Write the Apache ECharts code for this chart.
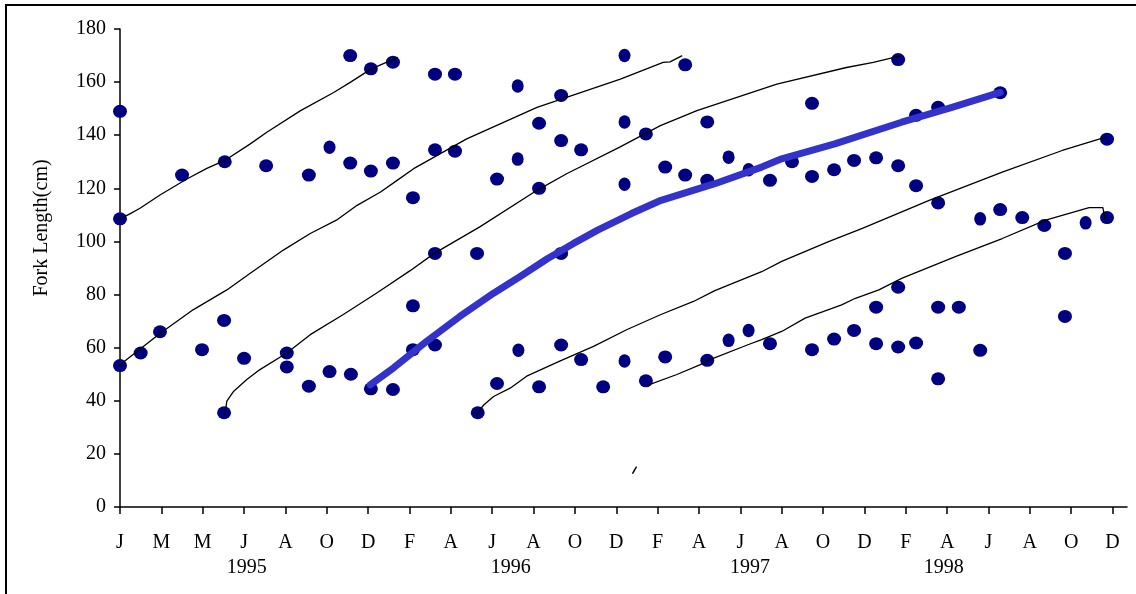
<!DOCTYPE html>
<html>
<head>
<meta charset="utf-8">
<script src="https://cdn.jsdelivr.net/npm/echarts@6/dist/echarts.min.js"></script>
<style>
  html, body { margin: 0; padding: 0; background: #fff; }
  #main { width: 1136px; height: 594px; }
</style>
</head>
<body>
<div id="main"></div>
<script>
// x is days since 1 Jan 1995, y is fork length in cm
const tickDays = [0, 60, 120, 180, 240, 300, 360, 420, 480, 540, 600, 660, 720, 780, 840, 900, 960, 1020, 1080, 1140, 1200, 1260, 1320, 1380, 1440]
const monthLabels = ['J', 'M', 'M', 'J', 'A', 'O', 'D', 'F', 'A', 'J', 'A', 'O', 'D', 'F', 'A', 'J', 'A', 'O', 'D', 'F', 'A', 'J', 'A', 'O', 'D']
const yearDays = [184, 567, 914, 1195]
const yearLabels = ['1995', '1996', '1997', '1998']

// fish caught (big dots)
const catches = [
  [0, 149], [0, 108.5], [90, 125], [152, 130], [212, 128.5], [274, 125], [334, 170], [334, 129.5],
  [364, 165], [364, 126.5], [396, 167.5], [396, 129.5],
  [457, 163], [486, 163], [640, 155], [820, 166.5], [457, 134.5], [486, 134], [608, 144.5], [640, 138],
  [669, 134.5], [547, 123.5], [608, 120], [763, 140.5], [852, 145], [791, 128], [820, 125], [852, 123],
  [943, 123], [425, 116.5], [457, 95.5], [518, 95.5], [640, 95.5],
  [1129, 168.5], [1004, 152], [1155, 147.5], [1187, 150.5], [1277, 156], [975, 130], [1004, 124.5],
  [1036, 127], [1065, 130.5], [1097, 131.5], [1129, 128.5], [1155, 121], [1187, 114.5], [1277, 112],
  [1309, 109], [1341, 106], [1432, 109], [1432, 138.5], [1371, 95.5], [1129, 82.75],
  [0, 53.25], [30, 58], [58, 66], [119, 59.25], [151, 70.25], [180, 56], [151, 35.5], [242, 58],
  [242, 52.75], [274, 45.5], [304, 51], [335, 50], [364, 44.5], [396, 44.25],
  [425, 75.75], [425, 59.25], [457, 61], [519, 35.5], [547, 46.5], [608, 45.25], [640, 61], [669, 55.5],
  [701, 45.25], [763, 47.5], [791, 56.5], [852, 55.25], [943, 61.5],
  [1004, 59.25], [1036, 63.25], [1065, 66.5], [1097, 75.25], [1097, 61.5], [1129, 60.25], [1155, 61.75],
  [1187, 75.25], [1187, 48.25], [1217, 75.25], [1248, 59], [1371, 71.75]
]
// slightly smaller dots
const catchesSmall = [
  [304, 135.5], [577, 158.5], [577, 131], [578, 59], [732, 170], [732, 145], [732, 121.5], [732, 55],
  [883, 131.75], [883, 62.75], [912, 127], [912, 66.5], [1248, 108.5], [1401, 107]
]

// growth curves
const growth1 = [[0, 108.5], [15, 110.5], [29, 112.5], [58, 117.5], [97, 123.5], [126, 127.5], [152, 130.5],
  [189, 136.75], [213, 141.1], [262, 149.25], [310, 156.1], [334, 159.9], [364, 164.9], [402, 169.25]]
const growth2 = [[0, 53.6], [58, 65.3], [106, 74.25], [155, 81.75], [189, 88], [237, 96.75], [276, 103],
  [314, 108], [344, 113.6], [378, 118.6], [402, 123], [426, 127.4], [503, 138.6],
  [605, 150.5], [726, 161.1], [788, 167.4], [798, 167.6], [815, 169.9]]
const growth3 = [[152, 34.5], [155, 39.9], [165, 43.6], [184, 48], [203, 51.75], [242, 58], [276, 64.9],
  [324, 72.5], [372, 80.5], [421, 89], [456, 95.5], [522, 105.5], [605, 119.25], [648, 125.5],
  [725, 135.5], [784, 143.6], [837, 149.25], [895, 154.25], [953, 159.25], [1054, 165.5], [1093, 167.4],
  [1132, 169.9]]
const growthBlue = [[363, 46], [397, 52.4], [445, 62.4], [493, 71.75], [542, 80.5], [580, 86.7],
  [620, 93.5], [658, 99.25], [693, 104.25], [742, 110.5], [785, 115.5], [863, 121.75],
  [931, 128], [960, 131.1], [1037, 136.75], [1134, 144.9], [1207, 150.5], [1277, 156.1]]
const growth4 = [[517, 34.9], [528, 38.5], [542, 41.6], [566, 44.75], [590, 49.25], [638, 54.9], [687, 60.5],
  [735, 66.75], [784, 72.4], [832, 77.4], [863, 81.5], [931, 88.6], [960, 92.5], [1028, 99.9], [1077, 104.9],
  [1174, 115.5], [1280, 126.1], [1367, 134.25], [1430, 139.25]]
const growth5 = [[762, 45.5], [808, 49.9], [842, 53.6], [856, 55.5], [911, 61.1], [931, 63], [960, 66.1], [994, 71.1],
  [1047, 76.1], [1067, 78.6], [1101, 81.75], [1134, 86.1], [1212, 94.25], [1280, 101.1], [1343, 108],
  [1406, 112.75], [1426, 112.75], [1429, 108.6]]
const strayMark = [[744, 12.75], [749, 15]]

const font = 'Liberation Serif'
const chart = echarts.init(document.getElementById('main'))

function curve(data, color, width) {
  return {
    type: 'line',
    data: data,
    showSymbol: false,
    symbol: 'none',
    silent: true,
    z: 3,
    lineStyle: { color: color, width: width, cap: 'round', join: 'round' }
  }
}

const option = {
  animation: false,
  backgroundColor: '#fff',
  grid: { left: 120, right: 9, top: 29, bottom: 87 },
  xAxis: [
    {
      type: 'value',
      min: 0,
      max: 1461,
      position: 'bottom',
      splitLine: { show: false },
      axisLine: { lineStyle: { color: '#000', width: 1.5 } },
      axisTick: { customValues: tickDays, length: 7, lineStyle: { color: '#000', width: 1.5 } },
      axisLabel: {
        customValues: tickDays,
        margin: 26,
        color: '#000',
        fontFamily: font,
        fontSize: 20,
        formatter: v => monthLabels[tickDays.indexOf(v)]
      }
    },
    {
      type: 'value',
      min: 0,
      max: 1461,
      position: 'bottom',
      splitLine: { show: false },
      axisLine: { show: false },
      axisTick: { show: false },
      axisLabel: {
        customValues: yearDays,
        margin: 51,
        color: '#000',
        fontFamily: font,
        fontSize: 20,
        formatter: v => yearLabels[yearDays.indexOf(v)]
      }
    }
  ],
  yAxis: {
    type: 'value',
    min: 0,
    max: 180,
    interval: 20,
    splitLine: { show: false },
    axisLine: { show: true, lineStyle: { color: '#000', width: 1.5 } },
    axisTick: { show: true, length: 6, lineStyle: { color: '#000', width: 1.5 } },
    axisLabel: { margin: 14, color: '#000', fontFamily: font, fontSize: 20 }
  },
  graphic: [
    {
      type: 'rect',
      shape: { x: 6, y: 5, width: 1300, height: 800 },
      style: { fill: null, stroke: '#000', lineWidth: 2 },
      silent: true
    },
    {
      type: 'text',
      x: 42,
      y: 228,
      rotation: Math.PI / 2,
      style: {
        text: 'Fork Length(cm)',
        font: '20px "Liberation Serif"',
        fill: '#000',
        align: 'center',
        verticalAlign: 'middle'
      }
    }
  ],
  series: [
    {
      type: 'scatter',
      data: catches,
      symbol: 'circle',
      symbolSize: [14, 13],
      z: 2,
      itemStyle: { color: '#000080', opacity: 1 }
    },
    {
      type: 'scatter',
      data: catchesSmall,
      symbol: 'circle',
      symbolSize: [12, 13.5],
      z: 2,
      itemStyle: { color: '#000080', opacity: 1 }
    },
    curve(growth1, '#000', 1.3),
    curve(growth2, '#000', 1.3),
    curve(growth3, '#000', 1.3),
    curve(growth4, '#000', 1.3),
    curve(growth5, '#000', 1.3),
    curve(strayMark, '#000', 1.5),
    curve(growthBlue, '#3333cc', 7)
  ]
}

chart.setOption(option)
</script>
</body>
</html>
